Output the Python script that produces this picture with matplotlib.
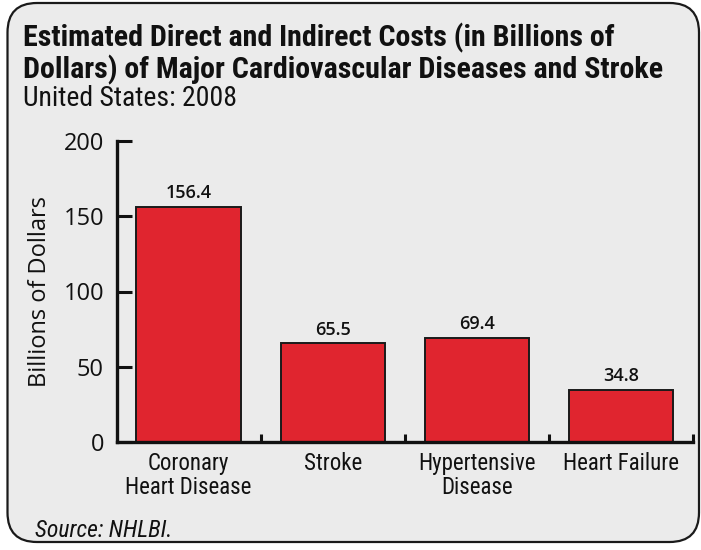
import matplotlib
matplotlib.use("Agg")
import matplotlib.pyplot as plt
from matplotlib.patches import FancyBboxPatch
from matplotlib import font_manager

categories = ["Coronary\nHeart Disease", "Stroke", "Hypertensive\nDisease", "Heart Failure"]
costs = [156.4, 65.5, 69.4, 34.8]
value_labels = ["156.4", "65.5", "69.4", "34.8"]
y_ticks = [0, 50, 100, 150, 200]

title_lines = ["Estimated Direct and Indirect Costs (in Billions of",
               "Dollars) of Major Cardiovascular Diseases and Stroke"]
subtitle = "United States: 2008"
source = "Source: NHLBI."


def pick(*names):
    avail = {f.name for f in font_manager.fontManager.ttflist}
    for n in names:
        if n in avail:
            return n
    return "DejaVu Sans"


narrow = pick("Liberation Sans Narrow", "Roboto Condensed", "Liberation Sans")
humanist = pick("Open Sans", "Lato", "DejaVu Sans")

W, H = 701, 550
fig = plt.figure(figsize=(W / 100, H / 100), dpi=100)
fig.patch.set_facecolor("white")

# rounded panel behind everything
panel = FancyBboxPatch((7.5 / W, 8 / H), (699 - 7.5) / W, (547 - 8) / H,
                       boxstyle="round,pad=0,rounding_size=0.042",
                       transform=fig.transFigure, facecolor="#ebebeb",
                       edgecolor="#1a1a1a", linewidth=1.6, zorder=-10,
                       mutation_aspect=W / H)
fig.patches.append(panel)

fig.text(23 / W, 1 - 46 / H, title_lines[0], fontfamily=narrow,
         fontweight="bold", fontsize=21.6, color="#111111", va="baseline")
fig.text(23 / W, 1 - 78 / H, title_lines[1], fontfamily=narrow,
         fontweight="bold", fontsize=21.6, color="#111111", va="baseline")
fig.text(23 / W, 1 - 106 / H, subtitle, fontfamily=narrow,
         fontsize=20, color="#111111", va="baseline")
fig.text(35 / W, 1 - 537 / H, source, fontfamily=narrow, style="italic",
         fontsize=17, color="#111111", va="baseline")

ax = fig.add_axes([116.5 / W, 1 - 442 / H, (693 - 116.5) / W, (442 - 141) / H])
ax.set_facecolor("none")
ax.set_zorder(1)

x = list(range(len(categories)))
bars = ax.bar(x, costs, width=0.724, color="#e0252f", edgecolor="#1a1a1a",
              linewidth=1.4, zorder=2)
for b, lab in zip(bars, value_labels):
    ax.annotate(lab, (b.get_x() + b.get_width() / 2, b.get_height()),
                xytext=(0, 3), textcoords="offset points", ha="center",
                va="bottom", fontfamily=humanist, fontsize=13,
                fontweight="semibold", color="#111111")

ax.set_xlim(-0.5, len(categories) - 0.5)
ax.set_ylim(0, 200)
ax.set_yticks(y_ticks)
ax.set_yticklabels([str(t) for t in y_ticks], fontfamily=humanist, fontsize=17)
ax.tick_params(axis="y", direction="in", length=11, width=2.2, pad=9,
               colors="#111111")

ax.set_xticks(x)
ax.set_xticklabels(categories, fontfamily=narrow, fontsize=16.5,
                   linespacing=1.05)
ax.tick_params(axis="x", which="major", length=0, pad=7, colors="#111111")
ax.set_xticks([i + 0.5 for i in x], minor=True)
ax.tick_params(axis="x", which="minor", direction="in", length=6, width=2.2,
               colors="#111111")

for s in ["top", "right"]:
    ax.spines[s].set_visible(False)
for s in ["left", "bottom"]:
    ax.spines[s].set_linewidth(2.4)
    ax.spines[s].set_color("#111111")

ax.set_ylabel("Billions of Dollars", fontfamily=humanist, fontsize=17,
              color="#111111", labelpad=8)

fig.savefig("out.png", dpi=100, facecolor="white")
